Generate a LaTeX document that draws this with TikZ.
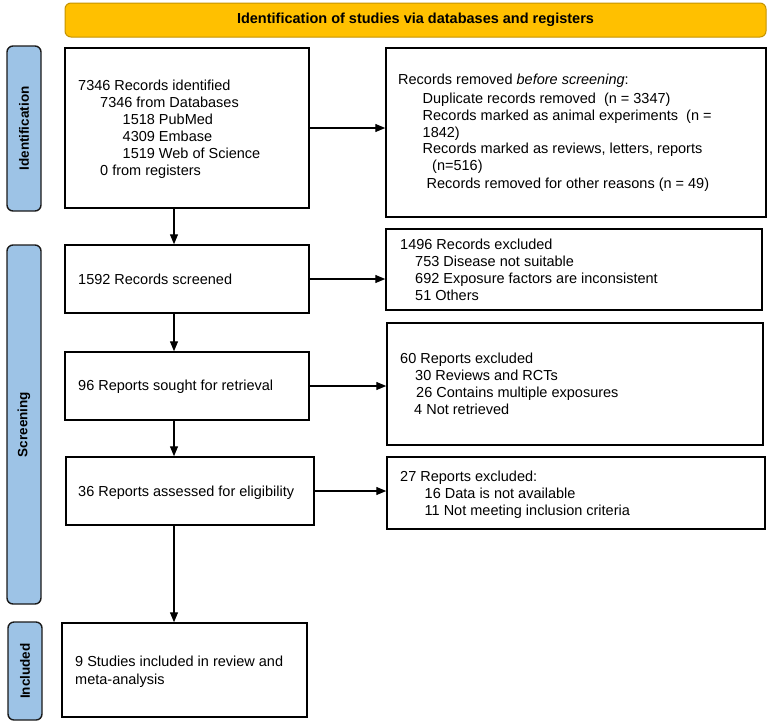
\documentclass[tikz,border=0pt]{standalone}
\usepackage{fontspec}
\setmainfont{Liberation Sans}
\usetikzlibrary{arrows.meta}
\definecolor{bannerfill}{HTML}{FFC000}
\definecolor{bannerdraw}{HTML}{C49300}
\definecolor{sidefill}{HTML}{9DC3E6}
\definecolor{sidedraw}{HTML}{1A1A1A}
\tikzset{
  box/.style={draw=black, line width=1.5pt, fill=white, inner sep=0pt},
  side/.style={draw=sidedraw, line width=1.4pt, fill=sidefill, rounded corners=6pt, inner sep=0pt,
    font=\fontsize{13.5pt}{16pt}\selectfont\bfseries},
  banner/.style={draw=bannerdraw, line width=1pt, fill=bannerfill, rounded corners=6pt, inner sep=0pt,
    font=\fontsize{14.5pt}{17pt}\selectfont\bfseries},
  txt/.style={anchor=base west, inner sep=0pt, font=\fontsize{14.5pt}{17pt}\selectfont},
  arr/.style={line width=1.3pt, -{Triangle[length=10pt,width=8pt]}},
}
\begin{document}
\begin{tikzpicture}[x=1pt,y=-1pt]
\useasboundingbox (0,0) rectangle (767,726);
% banner
\node[banner, minimum width=701pt, minimum height=34pt] (ban) at (415.5,20) {Identification of studies via databases and registers};
% side labels
\node[side, rotate=90, minimum width=165pt, minimum height=34pt] (sid1) at (24,128.5) {Identification};
\node[side, rotate=90, minimum width=359pt, minimum height=34pt] (sid2) at (24,424.5) {Screening};
\node[side, rotate=90, minimum width=98pt, minimum height=34pt] (sid3) at (25,671) {Included};
% left boxes
\node[box, minimum width=244pt, minimum height=160pt] (b1) at (187,128) {};
\node[box, minimum width=244pt, minimum height=68pt] (b2) at (187,279) {};
\node[box, minimum width=244pt, minimum height=68pt] (b3) at (187,386) {};
\node[box, minimum width=248pt, minimum height=68pt] (b4) at (190,491) {};
\node[box, minimum width=245pt, minimum height=94pt] (b5) at (184.5,670) {};
% right boxes
\node[box, minimum width=380pt, minimum height=169pt] (r1) at (576,132.5) {};
\node[box, minimum width=376pt, minimum height=81pt] (r2) at (574,269.5) {};
\node[box, minimum width=376pt, minimum height=122pt] (r3) at (575,384) {};
\node[box, minimum width=378pt, minimum height=72pt] (r4) at (576,493) {};
% texts box 1
\node[txt] (t1a) at (78,90.5) {7346 Records identified};
\node[txt] (t1b) at (100,107.5) {7346 from Databases};
\node[txt] (t1c) at (122.5,124.5) {1518 PubMed};
\node[txt] (t1d) at (122.5,141.5) {4309 Embase};
\node[txt] (t1e) at (122.5,158.5) {1519 Web of Science};
\node[txt] (t1f) at (100,175.5) {0 from registers};
% texts right 1
\node[txt] (u1a) at (398,84.5) {Records removed \textit{before screening}:};
\node[txt] (u1b) at (422.5,103) {Duplicate records removed\ \ (n = 3347)};
\node[txt] (u1c) at (422.5,120) {Records marked as animal experiments\ \ (n =};
\node[txt] (u1d) at (422.5,137) {1842)};
\node[txt] (u1e) at (422.5,153.5) {Records marked as reviews, letters, reports};
\node[txt] (u1f) at (432,170.5) {(n=516)};
\node[txt] (u1g) at (426.5,188.5) {Records removed for other reasons (n = 49)};
% box 2
\node[txt] (t2) at (78,284.5) {1592 Records screened};
\node[txt] (u2a) at (400,249.5) {1496 Records excluded};
\node[txt] (u2b) at (415,266.5) {753 Disease not suitable};
\node[txt] (u2c) at (415,283.5) {692 Exposure factors are inconsistent};
\node[txt] (u2d) at (415,300.5) {51 Others};
% box 3
\node[txt] (t3) at (78,390.5) {96 Reports sought for retrieval};
\node[txt] (u3a) at (400,363.5) {60 Reports excluded};
\node[txt] (u3b) at (415,380.5) {30 Reviews and RCTs};
\node[txt] (u3c) at (416,397.5) {26 Contains multiple exposures};
\node[txt] (u3d) at (414,414.5) {4 Not retrieved};
% box 4
\node[txt] (t4) at (78,496.5) {36 Reports assessed for eligibility};
\node[txt] (u4a) at (400,481.5) {27 Reports excluded:};
\node[txt] (u4b) at (424.5,498.5) {16 Data is not available};
\node[txt] (u4c) at (424.5,515.5) {11 Not meeting inclusion criteria};
% box 5
\node[txt] (t5a) at (75,666.5) {9 Studies included in review and};
\node[txt] (t5b) at (75,684.5) {meta-analysis};
% connectors
\coordinate (vx) at (174,0);
\draw[arr] (b1.south -| vx) -- (b2.north -| vx);
\draw[arr] (b2.south -| vx) -- (b3.north -| vx);
\draw[arr] (b3.south -| vx) -- (b4.north -| vx);
\draw[arr] (b4.south -| vx) -- (b5.north -| vx);
\draw[arr] (b1.east) -- (b1.east -| r1.west);
\draw[arr] (b2.east) -- (b2.east -| r2.west);
\draw[arr] (b3.east) -- (b3.east -| r3.west);
\draw[arr] (b4.east) -- (b4.east -| r4.west);
\end{tikzpicture}
\end{document}
